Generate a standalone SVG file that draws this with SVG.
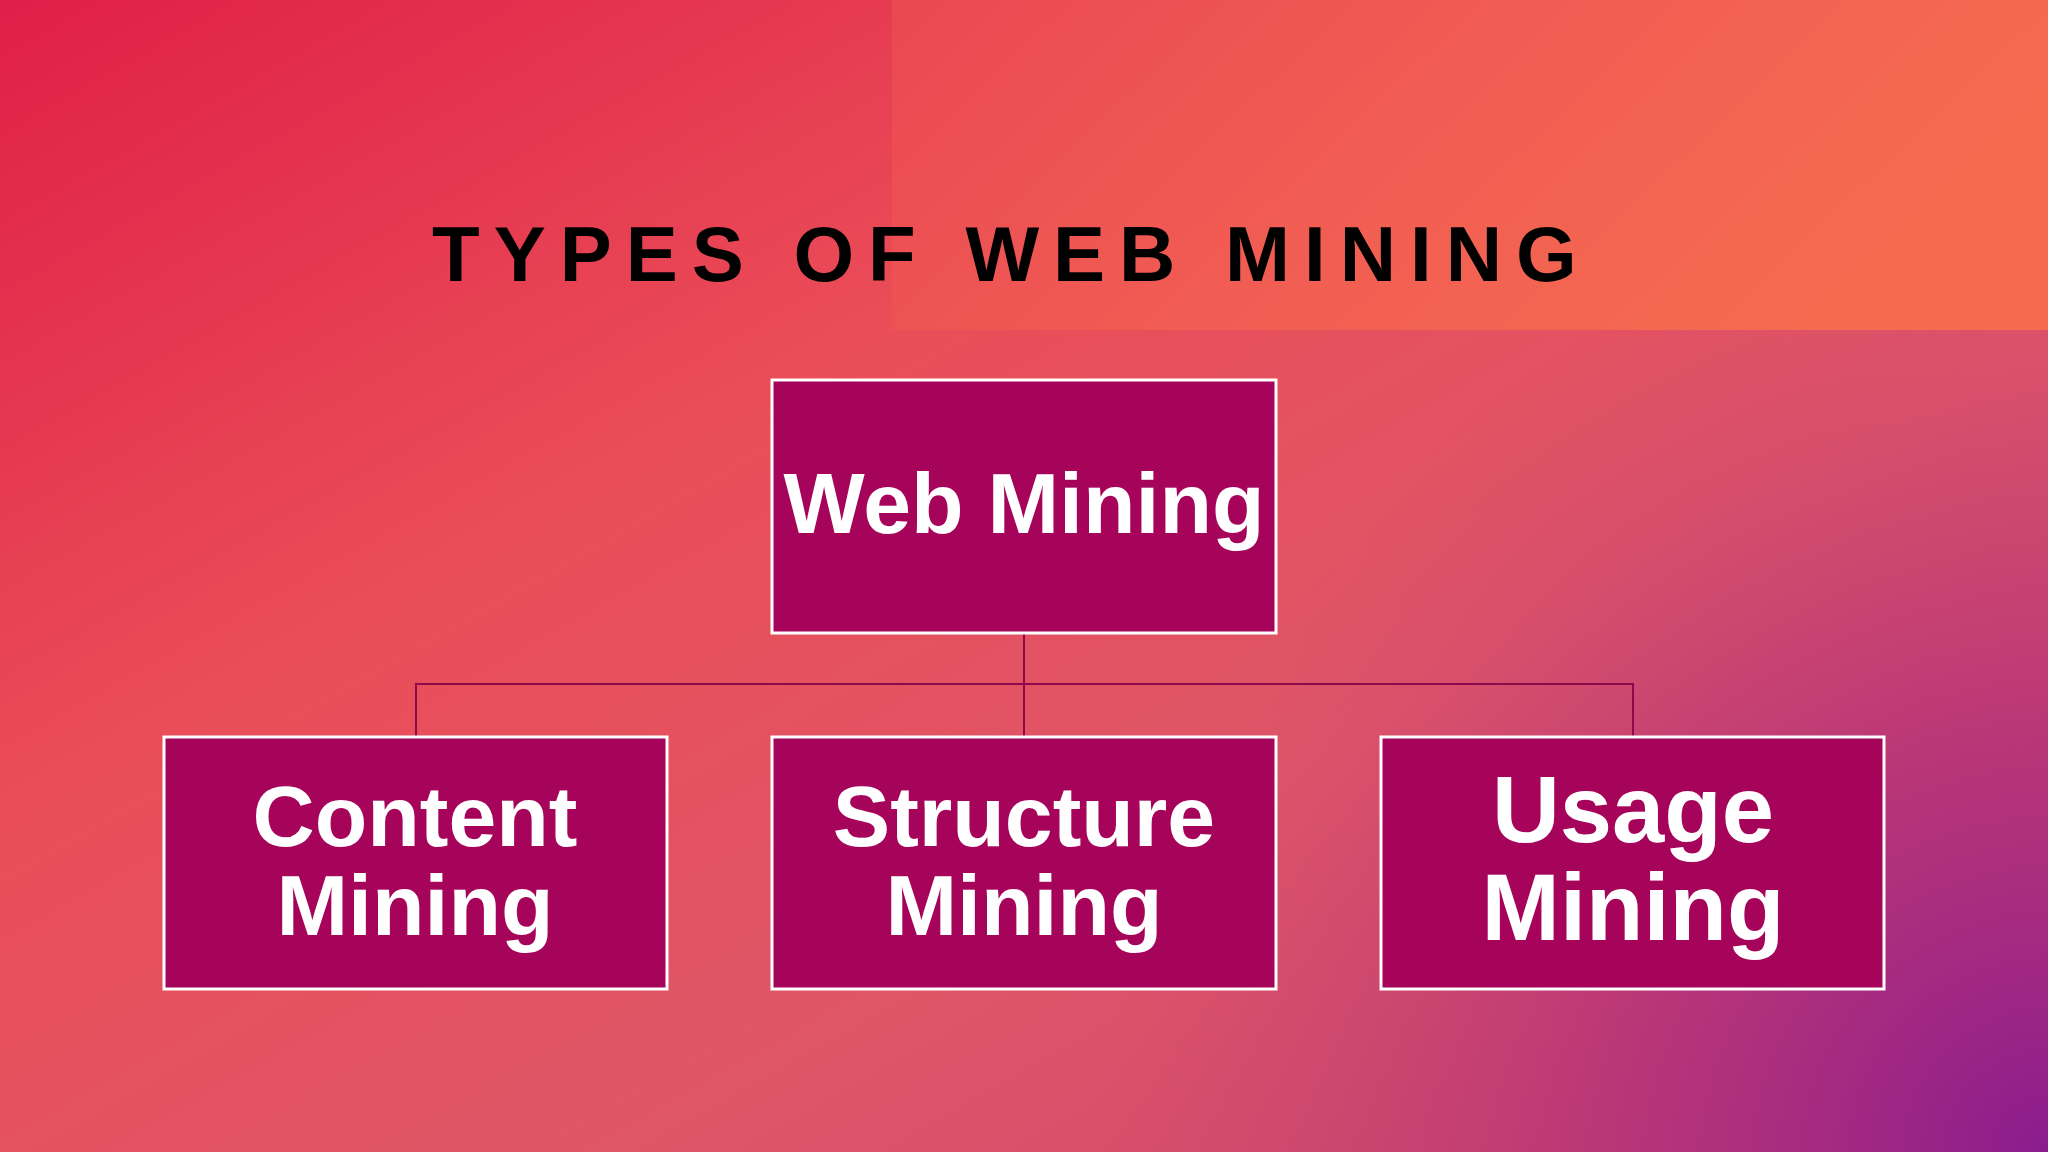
<svg xmlns="http://www.w3.org/2000/svg" width="2048" height="1152" viewBox="0 0 2048 1152">
  <defs>
    <linearGradient id="bg" x1="0" y1="0" x2="1" y2="1">
      <stop offset="0" stop-color="#e01f48"/>
      <stop offset="0.35" stop-color="#ea4d57"/>
      <stop offset="0.65" stop-color="#df5668"/>
      <stop offset="1" stop-color="#c8416f"/>
    </linearGradient>
    <radialGradient id="purple" cx="2048" cy="1152" r="950" gradientUnits="userSpaceOnUse">
      <stop offset="0" stop-color="#8a1c8e" stop-opacity="1"/>
      <stop offset="0.45" stop-color="#a8297f" stop-opacity="0.6"/>
      <stop offset="1" stop-color="#c8416f" stop-opacity="0"/>
    </radialGradient>
    <linearGradient id="band" x1="0" y1="0" x2="1" y2="0.3">
      <stop offset="0" stop-color="#ea4853"/>
      <stop offset="0.5" stop-color="#f15c53"/>
      <stop offset="1" stop-color="#f56b50"/>
    </linearGradient>
    <style>
      .box { fill: #a6035a; stroke: #ffffff; stroke-width: 3; }
      .lbl { font-family: "Liberation Sans", Arial, sans-serif; font-weight: bold; fill: #ffffff; text-anchor: middle; }
      .conn { stroke: #8c0a4c; stroke-width: 2; fill: none; }
    </style>
  </defs>

  <rect x="0" y="0" width="2048" height="1152" fill="url(#bg)"/>
  <rect x="0" y="0" width="2048" height="1152" fill="url(#purple)"/>
  <rect x="892" y="0" width="1156" height="330" fill="url(#band)"/>

  <text x="432" y="281" font-family="'Liberation Sans', Arial, sans-serif" font-weight="bold" font-size="78" letter-spacing="14" fill="#000000">TYPES OF WEB MINING</text>

  <g id="connectors">
    <line class="conn" x1="1024" y1="633" x2="1024" y2="737"/>
    <polyline class="conn" points="416,737 416,684 1633,684 1633,737"/>
  </g>

  <g id="node-web-mining">
    <rect class="box" x="772" y="380" width="504" height="253"/>
    <text class="lbl" x="1024" y="533" font-size="86">Web Mining</text>
  </g>

  <g id="node-content-mining">
    <rect class="box" x="164" y="737" width="503" height="252"/>
    <text class="lbl" x="415" y="846" font-size="86">Content</text>
    <text class="lbl" x="415" y="935" font-size="86">Mining</text>
  </g>

  <g id="node-structure-mining">
    <rect class="box" x="772" y="737" width="504" height="252"/>
    <text class="lbl" x="1024" y="846" font-size="86">Structure</text>
    <text class="lbl" x="1024" y="935" font-size="86">Mining</text>
  </g>

  <g id="node-usage-mining">
    <rect class="box" x="1381" y="737" width="503" height="252"/>
    <text class="lbl" x="1633" y="842" font-size="94">Usage</text>
    <text class="lbl" x="1633" y="940" font-size="94">Mining</text>
  </g>
</svg>
